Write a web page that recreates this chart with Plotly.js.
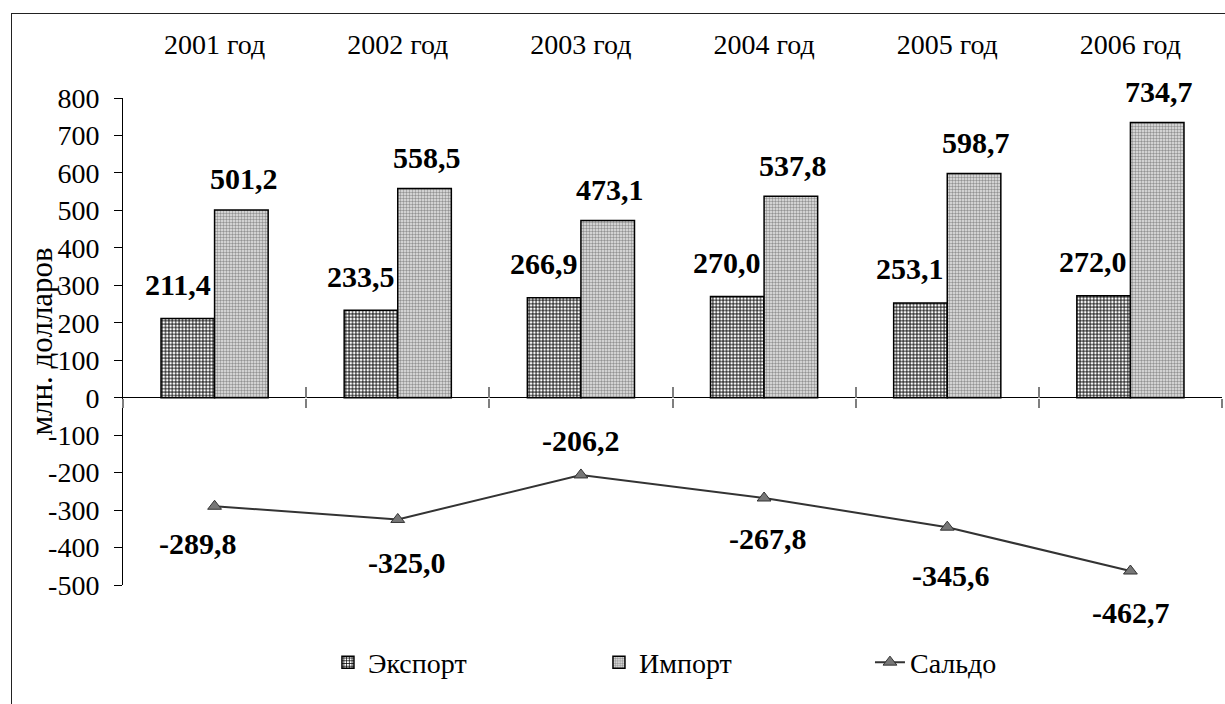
<!DOCTYPE html>
<html>
<head>
<meta charset="utf-8">
<script src="https://cdn.plot.ly/plotly-3.0.1.min.js"></script>
<style>
  html, body { margin: 0; padding: 0; background: #fff; }
  #wrap { position: relative; width: 1225px; height: 704px; overflow: hidden; }
  #chart { width: 1225px; height: 704px; }
  #frame { position: absolute; left: 11px; top: 13px; width: 1240px; height: 720px;
           border: 1.5px solid #222; pointer-events: none; }
</style>
</head>
<body>
<div id="wrap">
  <div id="chart"></div>
  <div id="frame"></div>
</div>
<script>
// ---- data ----
const years = ['2001 год', '2002 год', '2003 год', '2004 год', '2005 год', '2006 год'];
const exportVals = [211.4, 233.5, 266.9, 270.0, 253.1, 272.0];
const importVals = [501.2, 558.5, 473.1, 537.8, 598.7, 734.7];
const saldoVals = [-289.8, -325.0, -206.2, -267.8, -345.6, -462.7];
const seriesNames = ['Экспорт', 'Импорт', 'Сальдо'];
const yTickVals = [-500, -400, -300, -200, -100, 0, 100, 200, 300, 400, 500, 600, 700, 800];
const yTitle = 'млн. долларов';

// ---- styling ----
const FONT = '"Liberation Serif", "Times New Roman", serif';
const fmt = v => v.toFixed(1).replace('.', ',');
// label offsets for the balance line labels (px: dx, dy downward)
const saldoLabelShift = [[-17, 37], [9, 43], [0, -34], [4, 40], [4, 48], [1, 41]];

const traces = [
  {
    type: 'bar', name: seriesNames[0], x: years, y: exportVals,
    marker: {
      color: '#ffffff',
      line: { color: '#000', width: 1.5 },
      pattern: { shape: '+', fgcolor: '#000000', bgcolor: '#ffffff', size: 3.4, solidity: 0.45, fillmode: 'replace' }
    },
    hoverinfo: 'skip'
  },
  {
    type: 'bar', name: seriesNames[1], x: years, y: importVals,
    marker: {
      color: '#ffffff',
      line: { color: '#000', width: 1.5 },
      pattern: { shape: '.', fgcolor: '#939393', bgcolor: '#e8e8e8', size: 3, solidity: 0.5, fillmode: 'replace' }
    },
    hoverinfo: 'skip'
  },
  {
    type: 'scatter', mode: 'lines+markers', name: seriesNames[2], x: years, y: saldoVals,
    line: { color: '#333333', width: 2 },
    marker: { symbol: 'triangle-up', size: 12, color: '#777777', line: { color: '#333333', width: 1 } },
    hoverinfo: 'skip'
  }
];

const annFont = { family: FONT, size: 30, color: '#000' };
const annotations = [];
years.forEach((yr, i) => {
  annotations.push({ x: yr, y: exportVals[i], xref: 'x', yref: 'y', text: '<b>' + fmt(exportVals[i]) + '</b>',
    showarrow: false, xshift: -37, yshift: 34, yanchor: 'middle', font: annFont });
  annotations.push({ x: yr, y: importVals[i], xref: 'x', yref: 'y', text: '<b>' + fmt(importVals[i]) + '</b>',
    showarrow: false, xshift: 29, yshift: 31, yanchor: 'middle', font: annFont });
  annotations.push({ x: yr, y: saldoVals[i], xref: 'x', yref: 'y', text: '<b>' + fmt(saldoVals[i]) + '</b>',
    showarrow: false, xshift: saldoLabelShift[i][0], yshift: -saldoLabelShift[i][1], yanchor: 'middle', font: annFont });
});
// y axis title (placed next to tick labels)
annotations.push({ xref: 'paper', yref: 'paper', x: -0.0745, y: 0.5, xanchor: 'center', yanchor: 'middle',
  text: yTitle, textangle: -90, showarrow: false, font: { family: FONT, size: 31, color: '#000' } });

const yMin = yTickVals[0], yMax = yTickVals[yTickVals.length - 1];
const boundaryAxis = (dir, len) => ({
  type: 'linear', overlaying: 'x', anchor: 'free', position: (0 - yMin) / (yMax - yMin),
  range: [-0.5, years.length - 0.5], tickmode: 'linear', tick0: 0.5, dtick: 1,
  ticks: dir, ticklen: len, tickwidth: 2, tickcolor: '#7f7f7f',
  showticklabels: false, showline: false, showgrid: false, zeroline: false, fixedrange: true
});

const layout = {
  width: 1225, height: 704,
  margin: { l: 123, r: 3, t: 98, b: 118.5 },
  paper_bgcolor: 'rgba(0,0,0,0)', plot_bgcolor: 'rgba(0,0,0,0)',
  font: { family: FONT, color: '#000', size: 27 },
  barmode: 'group', bargap: 0.415, bargroupgap: 0,
  showlegend: true,
  legend: {
    orientation: 'h', x: 0.1865, xanchor: 'left', y: -0.159, yanchor: 'middle',
    font: { family: FONT, size: 28, color: '#000' }, entrywidth: 226, entrywidthmode: 'pixels',
    bgcolor: 'rgba(0,0,0,0)', traceorder: 'normal'
  },
  xaxis: {
    type: 'category', side: 'top', range: [-0.5, years.length - 0.5],
    ticks: 'outside', ticklen: 32, tickcolor: 'rgba(0,0,0,0)',
    tickfont: { family: FONT, size: 28, color: '#000' },
    showline: false, showgrid: false, zeroline: false, fixedrange: true
  },
  xaxis2: boundaryAxis('outside', 9),
  xaxis3: boundaryAxis('inside', 11),
  yaxis: {
    range: [yMin, yMax], tickmode: 'array', tickvals: yTickVals, ticktext: yTickVals.map(v => String(v)),
    ticks: 'outside', ticklen: 8, tickcolor: '#000', tickwidth: 1,
    ticklabelstandoff: 9,
    showline: true, linecolor: '#000', linewidth: 1,
    showgrid: false, zeroline: true, zerolinecolor: '#000', zerolinewidth: 1,
    tickfont: { family: FONT, size: 28, color: '#000' },
    fixedrange: true
  },
  annotations: annotations
};

// invisible helper traces so the boundary tick axes are drawn
traces.push({ type: 'scatter', x: [0], y: [0], xaxis: 'x2', yaxis: 'y', mode: 'markers', marker: { opacity: 0 }, showlegend: false, hoverinfo: 'skip' });
traces.push({ type: 'scatter', x: [0], y: [0], xaxis: 'x3', yaxis: 'y', mode: 'markers', marker: { opacity: 0 }, showlegend: false, hoverinfo: 'skip' });

Plotly.newPlot('chart', traces, layout, { staticPlot: true, displayModeBar: false });
</script>
</body>
</html>
